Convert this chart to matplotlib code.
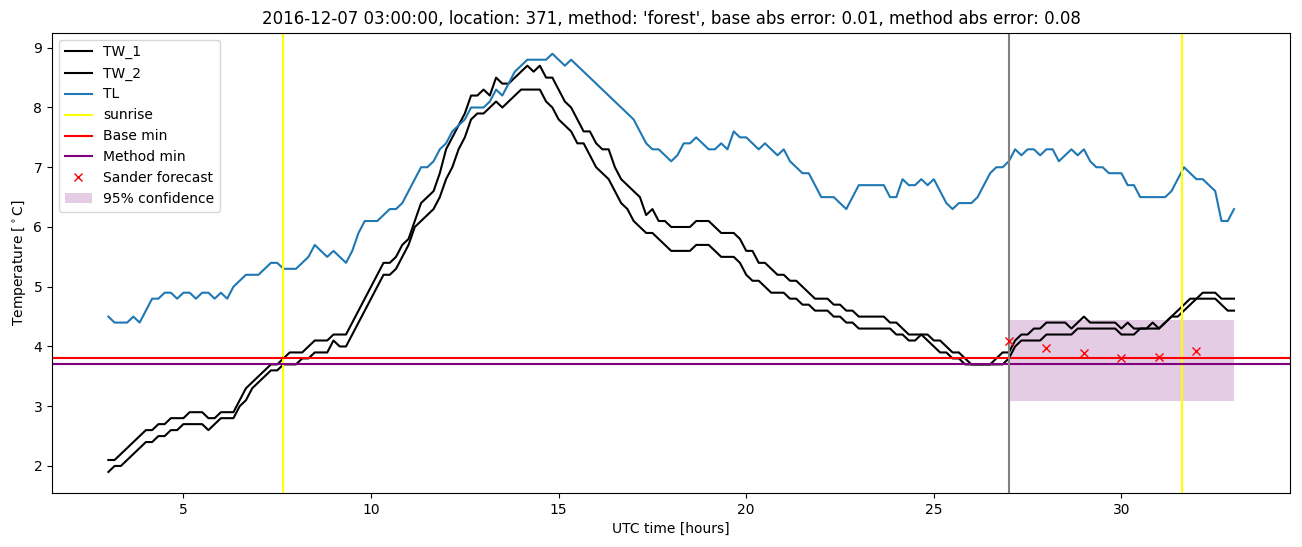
import numpy as np
import matplotlib.pyplot as plt

# 10-minute readings from 03:00 to 33:00 (hours since 2016-12-07 00:00 UTC)
start_hour = 3.0
step_hours = 1 / 6

tw_1 = [2.1, 2.1, 2.2, 2.3, 2.4, 2.5, 2.6, 2.6, 2.7, 2.7,
        2.8, 2.8, 2.8, 2.9, 2.9, 2.9, 2.8, 2.8, 2.9, 2.9,
        2.9, 3.1, 3.3, 3.4, 3.5, 3.6, 3.7, 3.7, 3.8, 3.9,
        3.9, 3.9, 4.0, 4.1, 4.1, 4.1, 4.2, 4.2, 4.2, 4.4,
        4.6, 4.8, 5.0, 5.2, 5.4, 5.4, 5.5, 5.7, 5.8, 6.1,
        6.4, 6.5, 6.6, 6.9, 7.3, 7.5, 7.7, 7.9, 8.2, 8.2,
        8.3, 8.2, 8.5, 8.4, 8.4, 8.5, 8.6, 8.7, 8.6, 8.7,
        8.5, 8.5, 8.3, 8.1, 8.0, 7.8, 7.6, 7.6, 7.4, 7.3,
        7.3, 7.0, 6.8, 6.7, 6.6, 6.5, 6.2, 6.3, 6.1, 6.1,
        6.0, 6.0, 6.0, 6.0, 6.1, 6.1, 6.1, 6.0, 5.9, 5.9,
        5.9, 5.8, 5.6, 5.6, 5.4, 5.4, 5.3, 5.2, 5.2, 5.1,
        5.1, 5.0, 4.9, 4.8, 4.8, 4.8, 4.7, 4.7, 4.6, 4.6,
        4.5, 4.5, 4.5, 4.5, 4.5, 4.4, 4.4, 4.3, 4.2, 4.2,
        4.2, 4.2, 4.1, 4.1, 4.0, 3.9, 3.9, 3.8, 3.7, 3.7,
        3.7, 3.7, 3.8, 3.9, 3.9, 4.1, 4.2, 4.2, 4.3, 4.3,
        4.4, 4.4, 4.4, 4.4, 4.3, 4.4, 4.5, 4.4, 4.4, 4.4,
        4.4, 4.4, 4.3, 4.4, 4.3, 4.3, 4.3, 4.4, 4.3, 4.4,
        4.5, 4.6, 4.7, 4.8, 4.8, 4.9, 4.9, 4.9, 4.8, 4.8,
        4.8]

tw_2 = [1.9, 2.0, 2.0, 2.1, 2.2, 2.3, 2.4, 2.4, 2.5, 2.5,
        2.6, 2.6, 2.7, 2.7, 2.7, 2.7, 2.6, 2.7, 2.8, 2.8,
        2.8, 3.0, 3.1, 3.3, 3.4, 3.5, 3.6, 3.6, 3.7, 3.7,
        3.7, 3.8, 3.8, 3.9, 3.9, 3.9, 4.1, 4.0, 4.0, 4.2,
        4.4, 4.6, 4.8, 5.0, 5.2, 5.2, 5.3, 5.5, 5.7, 6.0,
        6.1, 6.2, 6.3, 6.5, 6.8, 7.0, 7.3, 7.5, 7.8, 7.9,
        7.9, 8.0, 8.1, 8.0, 8.1, 8.2, 8.3, 8.3, 8.3, 8.3,
        8.1, 8.0, 7.8, 7.7, 7.6, 7.4, 7.4, 7.2, 7.0, 6.9,
        6.8, 6.6, 6.4, 6.3, 6.1, 6.0, 5.9, 5.9, 5.8, 5.7,
        5.6, 5.6, 5.6, 5.6, 5.7, 5.7, 5.7, 5.6, 5.5, 5.5,
        5.5, 5.4, 5.2, 5.1, 5.1, 5.0, 4.9, 4.9, 4.9, 4.8,
        4.8, 4.7, 4.7, 4.6, 4.6, 4.6, 4.5, 4.5, 4.4, 4.4,
        4.3, 4.3, 4.3, 4.3, 4.3, 4.3, 4.2, 4.2, 4.1, 4.1,
        4.2, 4.1, 4.0, 3.9, 3.9, 3.8, 3.8, 3.7, 3.7, 3.7,
        3.7, 3.7, 3.7, 3.7, 3.8, 4.0, 4.1, 4.1, 4.1, 4.1,
        4.2, 4.2, 4.2, 4.2, 4.2, 4.3, 4.3, 4.3, 4.3, 4.3,
        4.3, 4.3, 4.2, 4.2, 4.2, 4.3, 4.3, 4.3, 4.3, 4.4,
        4.5, 4.5, 4.6, 4.7, 4.8, 4.8, 4.8, 4.8, 4.7, 4.6,
        4.6]

tl = [4.5, 4.4, 4.4, 4.4, 4.5, 4.4, 4.6, 4.8, 4.8, 4.9,
      4.9, 4.8, 4.9, 4.9, 4.8, 4.9, 4.9, 4.8, 4.9, 4.8,
      5.0, 5.1, 5.2, 5.2, 5.2, 5.3, 5.4, 5.4, 5.3, 5.3,
      5.3, 5.4, 5.5, 5.7, 5.6, 5.5, 5.6, 5.5, 5.4, 5.6,
      5.9, 6.1, 6.1, 6.1, 6.2, 6.3, 6.3, 6.4, 6.6, 6.8,
      7.0, 7.0, 7.1, 7.3, 7.4, 7.6, 7.7, 7.8, 8.0, 8.0,
      8.0, 8.1, 8.3, 8.2, 8.4, 8.6, 8.7, 8.8, 8.8, 8.8,
      8.8, 8.9, 8.8, 8.7, 8.8, 8.7, 8.6, 8.5, 8.4, 8.3,
      8.2, 8.1, 8.0, 7.9, 7.8, 7.6, 7.4, 7.3, 7.3, 7.2,
      7.1, 7.2, 7.4, 7.4, 7.5, 7.4, 7.3, 7.3, 7.4, 7.3,
      7.6, 7.5, 7.5, 7.4, 7.3, 7.4, 7.3, 7.2, 7.3, 7.1,
      7.0, 6.9, 6.9, 6.7, 6.5, 6.5, 6.5, 6.4, 6.3, 6.5,
      6.7, 6.7, 6.7, 6.7, 6.7, 6.5, 6.5, 6.8, 6.7, 6.7,
      6.8, 6.7, 6.8, 6.6, 6.4, 6.3, 6.4, 6.4, 6.4, 6.5,
      6.7, 6.9, 7.0, 7.0, 7.1, 7.3, 7.2, 7.3, 7.3, 7.2,
      7.3, 7.3, 7.1, 7.2, 7.3, 7.2, 7.3, 7.1, 7.0, 7.0,
      6.9, 6.9, 6.9, 6.7, 6.7, 6.5, 6.5, 6.5, 6.5, 6.5,
      6.6, 6.8, 7.0, 6.9, 6.8, 6.8, 6.7, 6.6, 6.1, 6.1,
      6.3]

sunrise_hours = [7.66, 31.62]
forecast_start = 27.0
base_min = 3.8
method_min = 3.7

forecast_hours = [27, 28, 29, 30, 31, 32]
sander_forecast = [4.09, 3.98, 3.89, 3.80, 3.83, 3.92]
conf_hours = [27, 33]
conf_low = 3.08
conf_high = 4.45

title = ("2016-12-07 03:00:00, location: 371, method: 'forest', "
         "base abs error: 0.01, method abs error: 0.08")

hours = start_hour + step_hours * np.arange(len(tl))

fig, ax = plt.subplots(figsize=(13.02, 5.47), dpi=100)
fig.subplots_adjust(left=0.04, right=0.991, top=0.94, bottom=0.099)

ax.plot(hours, tw_1, color='black', label='TW_1')
ax.plot(hours, tw_2, color='black', label='TW_2')
ax.plot(hours, tl, color='C0', label='TL')

ax.axvline(sunrise_hours[0], color='yellow', label='sunrise')
ax.axvline(sunrise_hours[1], color='yellow')
ax.axhline(base_min, color='red', label='Base min')
ax.axhline(method_min, color='purple', label='Method min')
ax.axvline(forecast_start, color='grey')

ax.plot(forecast_hours, sander_forecast, 'x', color='red', label='Sander forecast')
ax.fill_between(conf_hours, conf_low, conf_high, color='purple', alpha=0.2,
                linewidth=0, label='95% confidence')

ax.set_title(title)
ax.set_xlabel('UTC time [hours]')
ax.set_ylabel(r'Temperature [$^\circ$C]')
ax.legend(loc='upper left')

fig.savefig('out.png', dpi=100)
